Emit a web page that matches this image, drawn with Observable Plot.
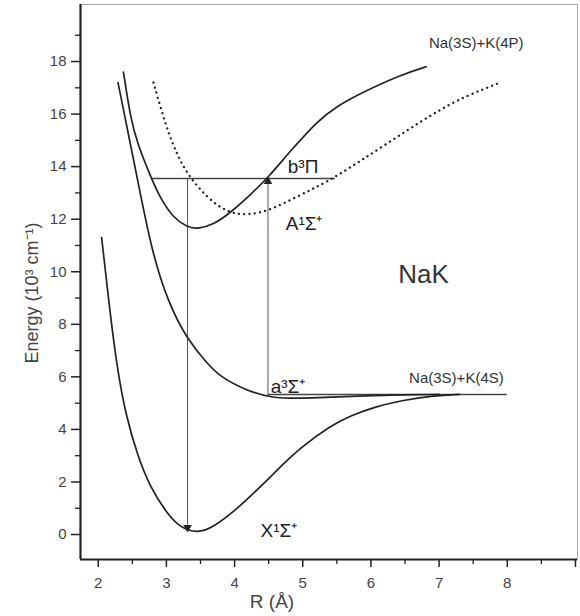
<!DOCTYPE html>
<html><head><meta charset="utf-8">
<script src="https://cdn.jsdelivr.net/npm/d3@7"></script>
<script src="https://cdn.jsdelivr.net/npm/@observablehq/plot@0.6"></script>
<style>body{margin:0;background:#fff} svg{display:block;font-family:"Liberation Sans",Arial,sans-serif}</style>
</head><body><div id="chart"></div>
<script>
// ---- data ----
const xDomain = [1.74, 9.03];
const yDomain = [-0.95, 20.17];
const xMajorTicks = [2, 3, 4, 5, 6, 7, 8, 9];
const xTickLabels = ["2", "3", "4", "5", "6", "7", "8", ""];
const xMinorTicks = [2.5, 3.5, 4.5, 5.5, 6.5, 7.5, 8.5];
const yMajorTicks = [0, 2, 4, 6, 8, 10, 12, 14, 16, 18];
const yMinorTicks = [1, 3, 5, 7, 9, 11, 13, 15, 17, 19];

// potential curves [R (Å), E (10^3 cm^-1)]
const stateX1 = [[2.05,11.3],[2.18,8.3],[2.28,6.3],[2.40,4.6],[2.57,3.05],[2.76,1.8],[3.01,0.8],[3.2,0.27],[3.45,0.04],[3.7,0.3],[4.0,0.9],[4.25,1.5],[4.49,2.1],[4.7,2.65],[4.94,3.25],[5.41,4.15],[5.71,4.53],[6.05,4.85],[6.44,5.1],[6.93,5.29],[7.3,5.33]];
const stateA3 = [[2.29,17.2],[2.54,14.0],[2.78,10.8],[3.03,8.8],[3.30,7.45],[3.6,6.5],[3.79,6.0],[4.2,5.45],[4.53,5.22],[4.8,5.18],[5.2,5.2],[5.8,5.27],[6.5,5.32],[7.0,5.33]];
const stateA1 = [[2.37,17.6],[2.47,15.9],[2.57,14.9],[2.78,13.55],[2.91,12.8],[3.1,12.06],[3.3,11.7],[3.45,11.62],[3.7,11.8],[3.94,12.25],[4.24,12.95],[4.49,13.58],[4.82,14.6],[5.22,15.75],[5.5,16.3],[5.85,16.8],[6.44,17.5],[6.81,17.8]];
const stateB3 = [[2.81,17.2],[3.01,15.4],[3.15,14.5],[3.31,13.7],[3.6,12.8],[3.9,12.25],[4.19,12.14],[4.53,12.35],[4.87,12.8],[5.2,13.22],[5.51,13.65],[6.19,14.8],[6.93,16.06],[7.4,16.7],[7.87,17.17]];

const levels = [{E: 13.55, R1: 2.78, R2: 5.48}, {E: 5.33, R1: 4.49, R2: 8.0}];
const arrows = [{R: 3.31, from: 13.55, to: 0.15}, {R: 4.49, from: 5.33, to: 13.55}];

const asymptoteLabels = [{R: 6.85, E: 18.5, text: "Na(3S)+K(4P)"}, {R: 6.56, E: 5.75, text: "Na(3S)+K(4S)"}];
const stateLabels = [
  {R: 4.78, E: 13.74, text: "b³Π"},
  {R: 4.75, E: 11.57, text: "A¹Σ⁺"},
  {R: 4.38, E: -0.08, text: "X¹Σ⁺"},
  {R: 4.53, E: 5.4, text: "a³Σ⁺"}
];
const moleculeLabel = [{R: 6.40, E: 9.59, text: "NaK"}];
const yLabel = ["Energy (10³ cm⁻¹)"];
const xLabel = ["R (Å)"];

// ---- chart ----
const ink = "#222";
const curve = (data, extra = {}) => Plot.line(data, {x: d => d[0], y: d => d[1], curve: "basis", stroke: ink, strokeWidth: 1.7, ...extra});

const chart = Plot.plot({
  width: 580, height: 616,
  marginLeft: 80, marginRight: 3, marginTop: 4, marginBottom: 57,
  x: {domain: xDomain, axis: null},
  y: {domain: yDomain, axis: null},
  style: {fontFamily: "'Liberation Sans', Arial, sans-serif", background: "#fff"},
  marks: [
    Plot.frame({stroke: "#aaa", strokeWidth: 1}),
    Plot.ruleX([xDomain[0]], {stroke: ink, strokeWidth: 2.2}),
    Plot.ruleY([yDomain[0]], {stroke: ink, strokeWidth: 2.2}),
    Plot.axisX(xMajorTicks, {tickSize: 8, tickPadding: 10, fontSize: 15, stroke: ink, strokeWidth: 1.5, fill: "#444", tickFormat: (d, i) => xTickLabels[i], label: null}),
    Plot.axisX(xMinorTicks, {tickSize: 5, stroke: ink, strokeWidth: 1.3, tickFormat: () => "", label: null}),
    Plot.axisY(yMajorTicks, {tickSize: 9, tickPadding: 5, fontSize: 15, stroke: ink, strokeWidth: 1.5, fill: "#444", label: null}),
    Plot.axisY(yMinorTicks, {tickSize: 5, stroke: ink, strokeWidth: 1.3, tickFormat: () => "", label: null}),
    // transition rules and level lines
    Plot.ruleX(arrows, {x: "R", y1: "from", y2: "to", stroke: "#555", strokeWidth: 1}),
    Plot.ruleY(levels, {y: "E", x1: "R1", x2: "R2", stroke: "#444", strokeWidth: 1.4}),
    Plot.dot(arrows.filter(d => d.to < d.from), {x: "R", y: "to", symbol: "triangle", r: 3.2, fill: ink, stroke: "none", rotate: 180, dy: -3}),
    Plot.dot(arrows.filter(d => d.to > d.from), {x: "R", y: "to", symbol: "triangle", r: 3.2, fill: ink, stroke: "none", dy: 3}),
    // potential curves
    curve(stateX1),
    curve(stateA3),
    curve(stateA1),
    curve(stateB3, {strokeWidth: 2.3, strokeDasharray: "0.1,5.2", strokeLinecap: "round"}),
    // labels
    Plot.text(asymptoteLabels, {x: "R", y: "E", text: "text", textAnchor: "start", lineAnchor: "bottom", fontSize: 15, fill: "#333"}),
    Plot.text(stateLabels, {x: "R", y: "E", text: "text", textAnchor: "start", lineAnchor: "bottom", fontSize: 19, fill: ink}),
    Plot.text(moleculeLabel, {x: "R", y: "E", text: "text", textAnchor: "start", lineAnchor: "bottom", fontSize: 26, fill: "#333"}),
    Plot.text(yLabel, {text: d => d, frameAnchor: "left", textAnchor: "middle", rotate: -90, dx: -43, dy: 11, lineAnchor: "bottom", fontSize: 18, fill: "#444"}),
    Plot.text(xLabel, {text: d => d, frameAnchor: "bottom", textAnchor: "middle", dx: -57, dy: 48, lineAnchor: "bottom", fontSize: 19, fill: "#444"})
  ]
});
document.getElementById("chart").appendChild(chart);
</script>
</body></html>
